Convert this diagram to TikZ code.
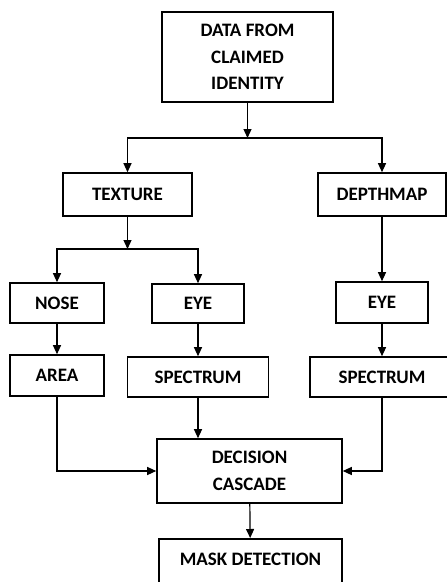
\documentclass[tikz,border=0pt]{standalone}
\usepackage{fontspec}
\setmainfont{Carlito}
\usetikzlibrary{arrows.meta}

\begin{document}
\begin{tikzpicture}[
			     x=1pt, y=-1pt,
			     >={Triangle[width=8pt,length=9pt]},
			     blk/.style={draw, line width=1.6pt, inner sep=0pt, align=center,
			                 font=\fontsize{19}{26.5}\selectfont\bfseries},
			     normal line/.style={->, line width=1.2pt}
			     ]
\useasboundingbox (0,0) rectangle (447,582);
% boxes
\node[blk, minimum width=171, minimum height=90] (claim) at (247.5,57) {DATA FROM\\CLAIMED\\IDENTITY};
\node[blk, minimum width=129, minimum height=43] (texture) at (127.5,194.5) {TEXTURE};
\node[blk, minimum width=128, minimum height=43] (depth) at (382,194.5) {DEPTHMAP};
\node[blk, minimum width=94, minimum height=40] (nose) at (57,303) {NOSE};
\node[blk, minimum width=92, minimum height=39] (eyeL) at (198,303.5) {EYE};
\node[blk, minimum width=92, minimum height=41] (eyeR) at (382,302.5) {EYE};
\node[blk, minimum width=94, minimum height=41] (area) at (57,375.5) {AREA};
\node[blk, minimum width=141, minimum height=40] (specL) at (198,377) {SPECTRUM};
\node[blk, minimum width=144, minimum height=40] (specR) at (382,377) {SPECTRUM};
\node[blk, minimum width=185, minimum height=64] (dec) at (249.5,471) {DECISION\\CASCADE};
\node[blk, minimum width=183, text height=27pt, text depth=40pt, anchor=north] (mask) at (250.5,538) {MASK DETECTION};
% junctions
\coordinate (j1) at (247.5,138);
\coordinate (j2) at (127.5,249);
% arrows
\path (claim) edge[normal line] (j1);
\draw[normal line] (j1) -| (texture);
\draw[normal line] (j1) -| (depth);
\path (texture) edge[normal line] (j2);
\draw[normal line] (j2) -| (nose);
\draw[normal line] (j2) -| (eyeL);
\path (depth) edge[normal line] (eyeR);
\path (nose) edge[normal line] (area);
\path (eyeL) edge[normal line] (specL);
\path (eyeR) edge[normal line] (specR);
\draw[normal line] (area) |- (dec.west);
\path (specL.south) edge[normal line] (specL.south |- dec.north);
\draw[normal line] (specR) |- (dec.east);
\path (dec) edge[normal line] (mask);
\end{tikzpicture}
\end{document}
